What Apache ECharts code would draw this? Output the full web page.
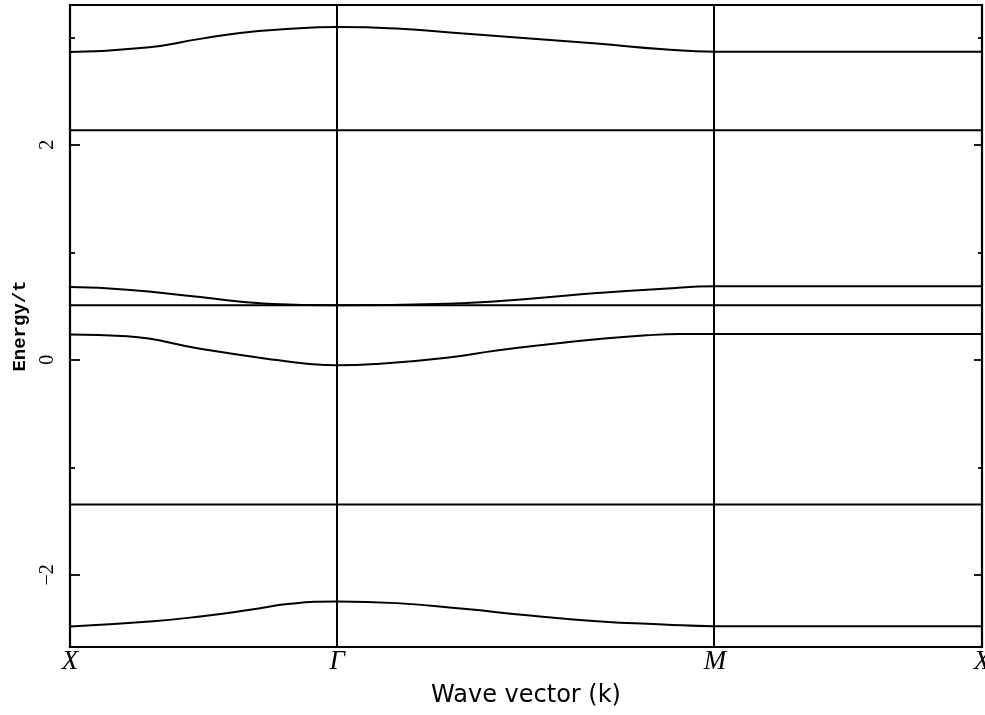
<!DOCTYPE html>
<html><head><meta charset="utf-8">
<script src="https://cdn.jsdelivr.net/npm/echarts@6/dist/echarts.min.js"></script>
<style>html,body{margin:0;padding:0;background:#fff}#c{width:985px;height:715px}</style>
</head><body><div id="c"></div>
<script>
// High-symmetry points along the path X -> Γ -> M -> X (path length units)
const kPointNames = ['X', 'Γ', 'M', 'X'];
const kPointPos = [0, 1, 2.4142, 3.4142];
const yMajorTicks = [-2, 0, 2];
const yMinorTicks = [-1, 1, 3];
const yRange = [-2.67, 3.30];

// Bands: [k, Energy/t]
const band1 = [[0,2.863],[0.288,2.905],[0.487,2.985],[0.636,3.040],[0.797,3.074],[1,3.096],
  [1.223,3.081],[1.473,3.034],[1.722,2.988],[1.972,2.941],[2.221,2.888],[2.4142,2.866],[3.4142,2.866]];
const band2 = [[0,2.135],[3.4142,2.135]];
const band3 = [[0,0.677],[0.214,0.653],[0.487,0.584],[0.737,0.523],[1,0.507],
  [1.41,0.523],[1.722,0.569],[1.972,0.621],[2.221,0.662],[2.4142,0.684],[3.4142,0.684]];
const band4 = [[0,0.507],[3.4142,0.507]];
const band5 = [[0,0.237],[0.214,0.219],[0.487,0.104],[0.737,0.011],[0.887,-0.035],[1,-0.051],
  [1.16,-0.036],[1.41,0.020],[1.597,0.088],[1.785,0.144],[1.972,0.191],[2.159,0.228],[2.284,0.240],[2.4142,0.240],[3.4142,0.240]];
const band6 = [[0,-1.344],[3.4142,-1.344]];
const band7 = [[0,-2.479],[0.299,-2.433],[0.487,-2.386],[0.674,-2.324],[0.824,-2.268],[1,-2.247],
  [1.223,-2.262],[1.473,-2.315],[1.722,-2.377],[1.972,-2.430],[2.221,-2.460],[2.4142,-2.476],[3.4142,-2.476]];
const bands = [band1, band2, band3, band4, band5, band6, band7];

const chart = echarts.init(document.getElementById('c'), null, {renderer: 'canvas'});
const monoFont = '"Liberation Mono", "DejaVu Sans Mono", monospace';

function yAxisDef(pos, ticks, len, withLabel) {
  return {
    type: 'value', position: pos, min: yRange[0], max: yRange[1],
    name: withLabel ? 'Energy/t' : '',
    nameLocation: 'middle', nameGap: 38, nameRotate: 90,
    nameTextStyle: {fontFamily: monoFont, fontSize: 19, fontWeight: 'bold', color: '#000'},
    axisLine: {show: false},
    splitLine: {show: false},
    axisTick: {show: true, inside: true, length: len, customValues: ticks, lineStyle: {color: '#000', width: 1.8}},
    axisLabel: withLabel ? {
      show: true, customValues: ticks, rotate: 90, margin: 12,
      fontFamily: '"Liberation Serif", serif', fontSize: 20, color: '#000',
      formatter: v => (v < 0 ? '\u2212' + Math.abs(v) : String(v))
    } : {show: false}
  };
}

const series = bands.map((b, i) => ({
  type: 'line', data: b, showSymbol: false, smooth: 0.5,
  lineStyle: {color: '#000', width: 2}, silent: true, animation: false,
  markLine: i === 0 ? {
    silent: true, symbol: 'none', animation: false, label: {show: false},
    lineStyle: {color: '#000', type: 'solid', width: 2},
    data: [{xAxis: kPointPos[1]}, {xAxis: kPointPos[2]}]
  } : undefined
}));

chart.setOption({
  backgroundColor: '#fff',
  animation: false,
  grid: {left: 70, right: 3, top: 5, bottom: 68, outerBoundsMode: 'none', containLabel: false,
    show: true, borderColor: '#000', borderWidth: 2.2, backgroundColor: 'transparent'},
  xAxis: {
    type: 'value', min: kPointPos[0], max: kPointPos[3],
    name: 'Wave vector (k)', nameLocation: 'middle', nameGap: 37,
    nameTextStyle: {fontFamily: '"DejaVu Sans", sans-serif', fontSize: 24, color: '#000'},
    axisLine: {show: false}, axisTick: {show: false}, splitLine: {show: false},
    axisLabel: {
      show: true, customValues: kPointPos, margin: 1,
      fontFamily: '"Liberation Serif", "DejaVu Serif", serif', fontStyle: 'italic', fontSize: 27, color: '#000',
      formatter: v => { const i = kPointPos.findIndex(p => Math.abs(p - v) < 1e-6); return i >= 0 ? kPointNames[i] : ''; }
    }
  },
  yAxis: [
    yAxisDef('left', yMajorTicks, 10, true),
    yAxisDef('left', yMinorTicks, 5, false),
    yAxisDef('right', yMajorTicks, 8, false),
    yAxisDef('right', yMinorTicks, 4, false)
  ],
  series: series
});
</script>
</body></html>
